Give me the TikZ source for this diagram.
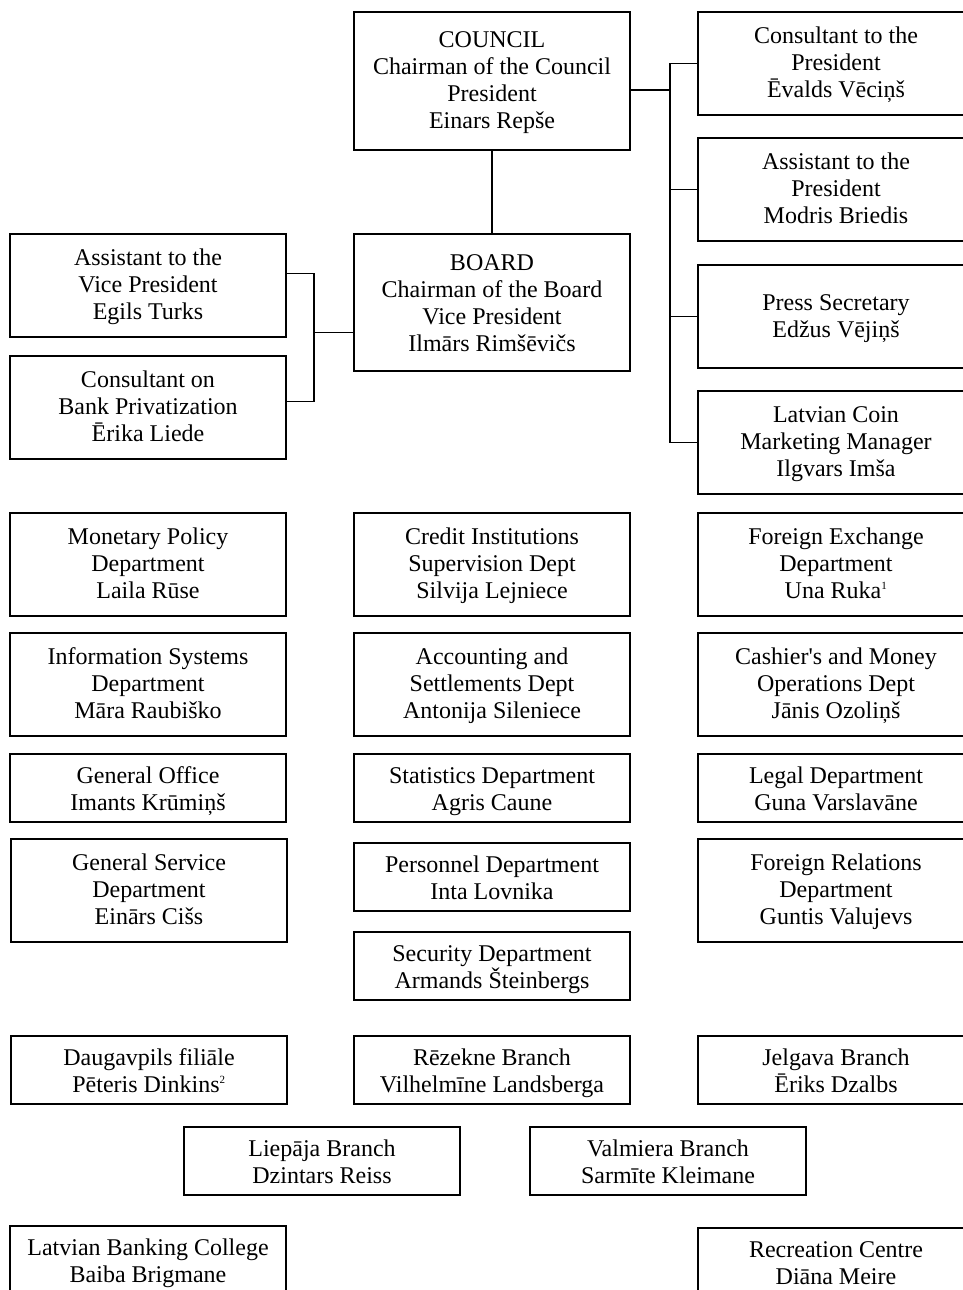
\documentclass[tikz,border=0pt]{standalone}
\usepackage{fontspec}
\setmainfont{Liberation Serif}[Ligatures=TeXOff]
\usetikzlibrary{positioning}

\newcommand{\smallsup}[1]{\textsuperscript{\fontsize{11}{11}\selectfont #1}}

\tikzset{
	unit/.style={draw, line width=1.6pt, minimum width=276pt, minimum height=103pt, inner sep=0pt, align=center, font=\fontsize{24}{27}\selectfont,
		text height=76pt, text depth=8pt},
	lowunit/.style={unit, minimum height=68pt, text height=53pt},
	link/.style={line width=1.6pt}
}

\begin{document}
\begin{tikzpicture}[x=1pt, y=-1pt]
	\useasboundingbox (0,0) rectangle (962,1290);
	\node[unit, minimum height=138pt, text height=103pt] (council) at (492,81) {COUNCIL\\Chairman of the Council\\President\\Einars Repše};
	\node[unit, minimum height=137pt, text height=106pt] (board) at (492,302.5) {BOARD\\Chairman of the Board\\Vice President\\Ilmārs Rimšēvičs};
	\node[unit] (consult) at (836,63.5) {Consultant to the\\President\\Ēvalds Vēciņš};
	\node[unit] (assist) at (836,189.5) {Assistant to the\\President\\Modris Briedis};
	\node[unit, text height=49pt] (press) at (836,316.5) {Press Secretary\\Edžus Vējiņš};
	\node[unit] (coin) at (836,442.5) {Latvian Coin\\Marketing Manager\\Ilgvars Imša};
	\node[unit] (assistvp) at (148,285.5) {Assistant to the\\Vice President\\Egils Turks};
	\node[unit] (privat) at (148,407.5) {Consultant on\\Bank Privatization\\Ērika Liede};

	\node[unit] (monetary) at (148,564.5) {Monetary Policy\\Department\\Laila Rūse};
	\node[unit] (credit) at (492,564.5) {Credit Institutions\\Supervision Dept\\Silvija Lejniece};
	\node[unit] (forex) at (836,564.5) {Foreign Exchange\\Department\\Una Ruka\smallsup{1}};
	\node[unit] (infosys) at (148,684.5) {Information Systems\\Department\\Māra Raubiško};
	\node[unit] (account) at (492,684.5) {Accounting and\\Settlements Dept\\Antonija Sileniece};
	\node[unit] (cashier) at (836,684.5) {Cashier's and Money\\Operations Dept\\Jānis Ozoliņš};
	\node[lowunit] (office) at (148,788) {General Office\\Imants Krūmiņš};
	\node[lowunit] (stats) at (492,788) {Statistics Department\\Agris Caune};
	\node[lowunit] (legal) at (836,788) {Legal Department\\Guna Varslavāne};
	\node[unit] (service) at (149,890.5) {General Service\\Department\\Einārs Cišs};
	\node[lowunit] (personnel) at (492,877) {Personnel Department\\Inta Lovnika};
	\node[unit] (foreign) at (836,890.5) {Foreign Relations\\Department\\Guntis Valujevs};
	\node[lowunit] (security) at (492,966) {Security Department\\Armands Šteinbergs};

	\node[lowunit] (daugavpils) at (149,1070) {Daugavpils filiāle\\Pēteris Dinkins\smallsup{2}};
	\node[lowunit] (rezekne) at (492,1070) {Rēzekne Branch\\Vilhelmīne Landsberga};
	\node[lowunit] (jelgava) at (836,1070) {Jelgava Branch\\Ēriks Dzalbs};
	\node[lowunit] (liepaja) at (322,1161) {Liepāja Branch\\Dzintars Reiss};
	\node[lowunit] (valmiera) at (668,1161) {Valmiera Branch\\Sarmīte Kleimane};
	\node[lowunit] (college) at (148,1260) {Latvian Banking College\\Baiba Brigmane};
	\node[lowunit] (recreation) at (836,1262) {Recreation Centre\\Diāna Meire};

	\coordinate (rtrunk) at (670,0);
	\coordinate (ltrunk) at (314,0);
	\draw[link] (council) -- (board);
	\draw[link] ([yshift=-9pt]council.east) -- ([yshift=-9pt]council.east -| rtrunk);
	\draw[link] (consult.west) -- (consult.west -| rtrunk) -- (coin.west -| rtrunk) -- (coin.west);
	\draw[link] (assist.west) -- (assist.west -| rtrunk);
	\draw[link] (press.west) -- (press.west -| rtrunk);
	\draw[link] ([yshift=12pt]assistvp.east) -- ([yshift=12pt]assistvp.east -| ltrunk) -- ([yshift=6pt]privat.east -| ltrunk) -- ([yshift=6pt]privat.east);
	\draw[link] ([yshift=-30pt]board.west) -- ([yshift=-30pt]board.west -| ltrunk);
\end{tikzpicture}
\end{document}
